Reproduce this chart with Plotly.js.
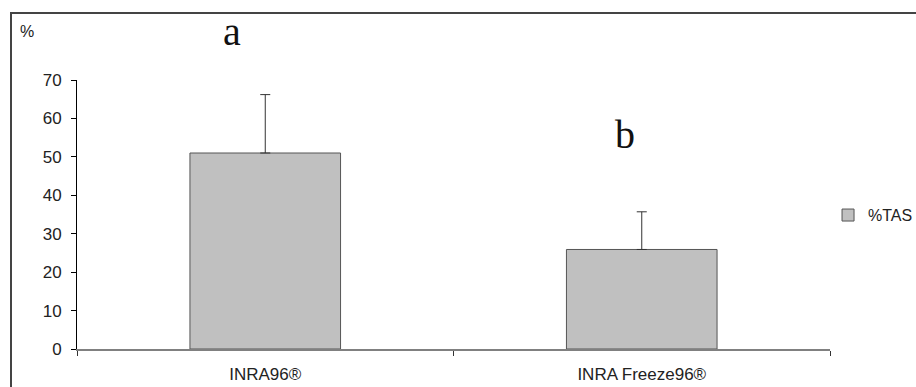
<!DOCTYPE html>
<html>
<head>
<meta charset="utf-8">
<script src="https://cdn.plot.ly/plotly-3.0.1.min.js"></script>
<style>
  html, body { margin: 0; padding: 0; background: #fff; }
  #wrap { position: relative; width: 916px; height: 387px; overflow: hidden; }
  #chart { position: absolute; left: 0; top: 0; width: 916px; height: 387px; }
  #frame { position: absolute; left: 10px; top: 12px; width: 1000px; height: 500px;
           border-left: 2px solid #444; border-top: 2px solid #444; pointer-events: none; }
</style>
</head>
<body>
<div id="wrap">
  <div id="chart"></div>
  <div id="frame"></div>
</div>
<script>
const categories = ["INRA96®", "INRA Freeze96®"];
const seriesName = "%TAS";
const values = [51.0, 25.9];
const errors = [15.2, 9.8];
const sigLetters = ["a", "b"];
const yTicks = [0, 10, 20, 30, 40, 50, 60, 70];

const trace = {
  type: "bar",
  name: seriesName,
  x: categories,
  y: values,
  width: 0.4,
  marker: { color: "#c0c0c0", line: { color: "#555", width: 1 } },
  error_y: { type: "data", array: errors, arrayminus: [0, 0], symmetric: false,
             visible: true, color: "#333", thickness: 1, width: 5 },
  showlegend: true
};

const serif = "Liberation Serif, Times New Roman, serif";

const layout = {
  width: 916, height: 387,
  margin: { l: 77, r: 86, t: 80, b: 38, autoexpand: false },
  paper_bgcolor: "#fff", plot_bgcolor: "#fff",
  font: { family: "Liberation Sans, Arial, sans-serif", size: 17, color: "#222" },
  xaxis: {
    type: "category", range: [-0.5, 1.5], tickson: "boundaries",
    showline: true, linecolor: "#808080", linewidth: 2,
    ticks: "outside", ticklen: 5, tickcolor: "#333", tickwidth: 1,
    ticklabelstandoff: 9, showgrid: false, zeroline: false,
    tickfont: { size: 17 }
  },
  yaxis: {
    range: [0, 70], tickvals: yTicks, showline: true, linecolor: "#000", linewidth: 1,
    ticks: "outside", ticklen: 5, tickcolor: "#000", showgrid: false, zeroline: false,
    ticklabelstandoff: 6, tickfont: { size: 17 }
  },
  legend: {
    x: 0.9974, y: 0.4976, xanchor: "left", yanchor: "middle",
    font: { size: 16 }, bgcolor: "rgba(0,0,0,0)", itemwidth: 30
  },
  annotations: [
    { text: "%", xref: "paper", yref: "paper", x: -0.078, y: 1.18, xanchor: "left",
      yanchor: "middle", showarrow: false, font: { size: 16 } },
    { text: sigLetters[0], xref: "x", yref: "paper", x: categories[0], y: 1.179,
      xshift: -33, yshift: 25, showarrow: false, font: { family: serif, size: 40, color: "#111" } },
    { text: sigLetters[1], xref: "x", yref: "paper", x: categories[1], y: 0.795,
      xshift: -17, yshift: 25, showarrow: false, font: { family: serif, size: 40, color: "#111" } }
  ]
};

Plotly.newPlot("chart", [trace], layout, { displayModeBar: false, staticPlot: true });
</script>
</body>
</html>
